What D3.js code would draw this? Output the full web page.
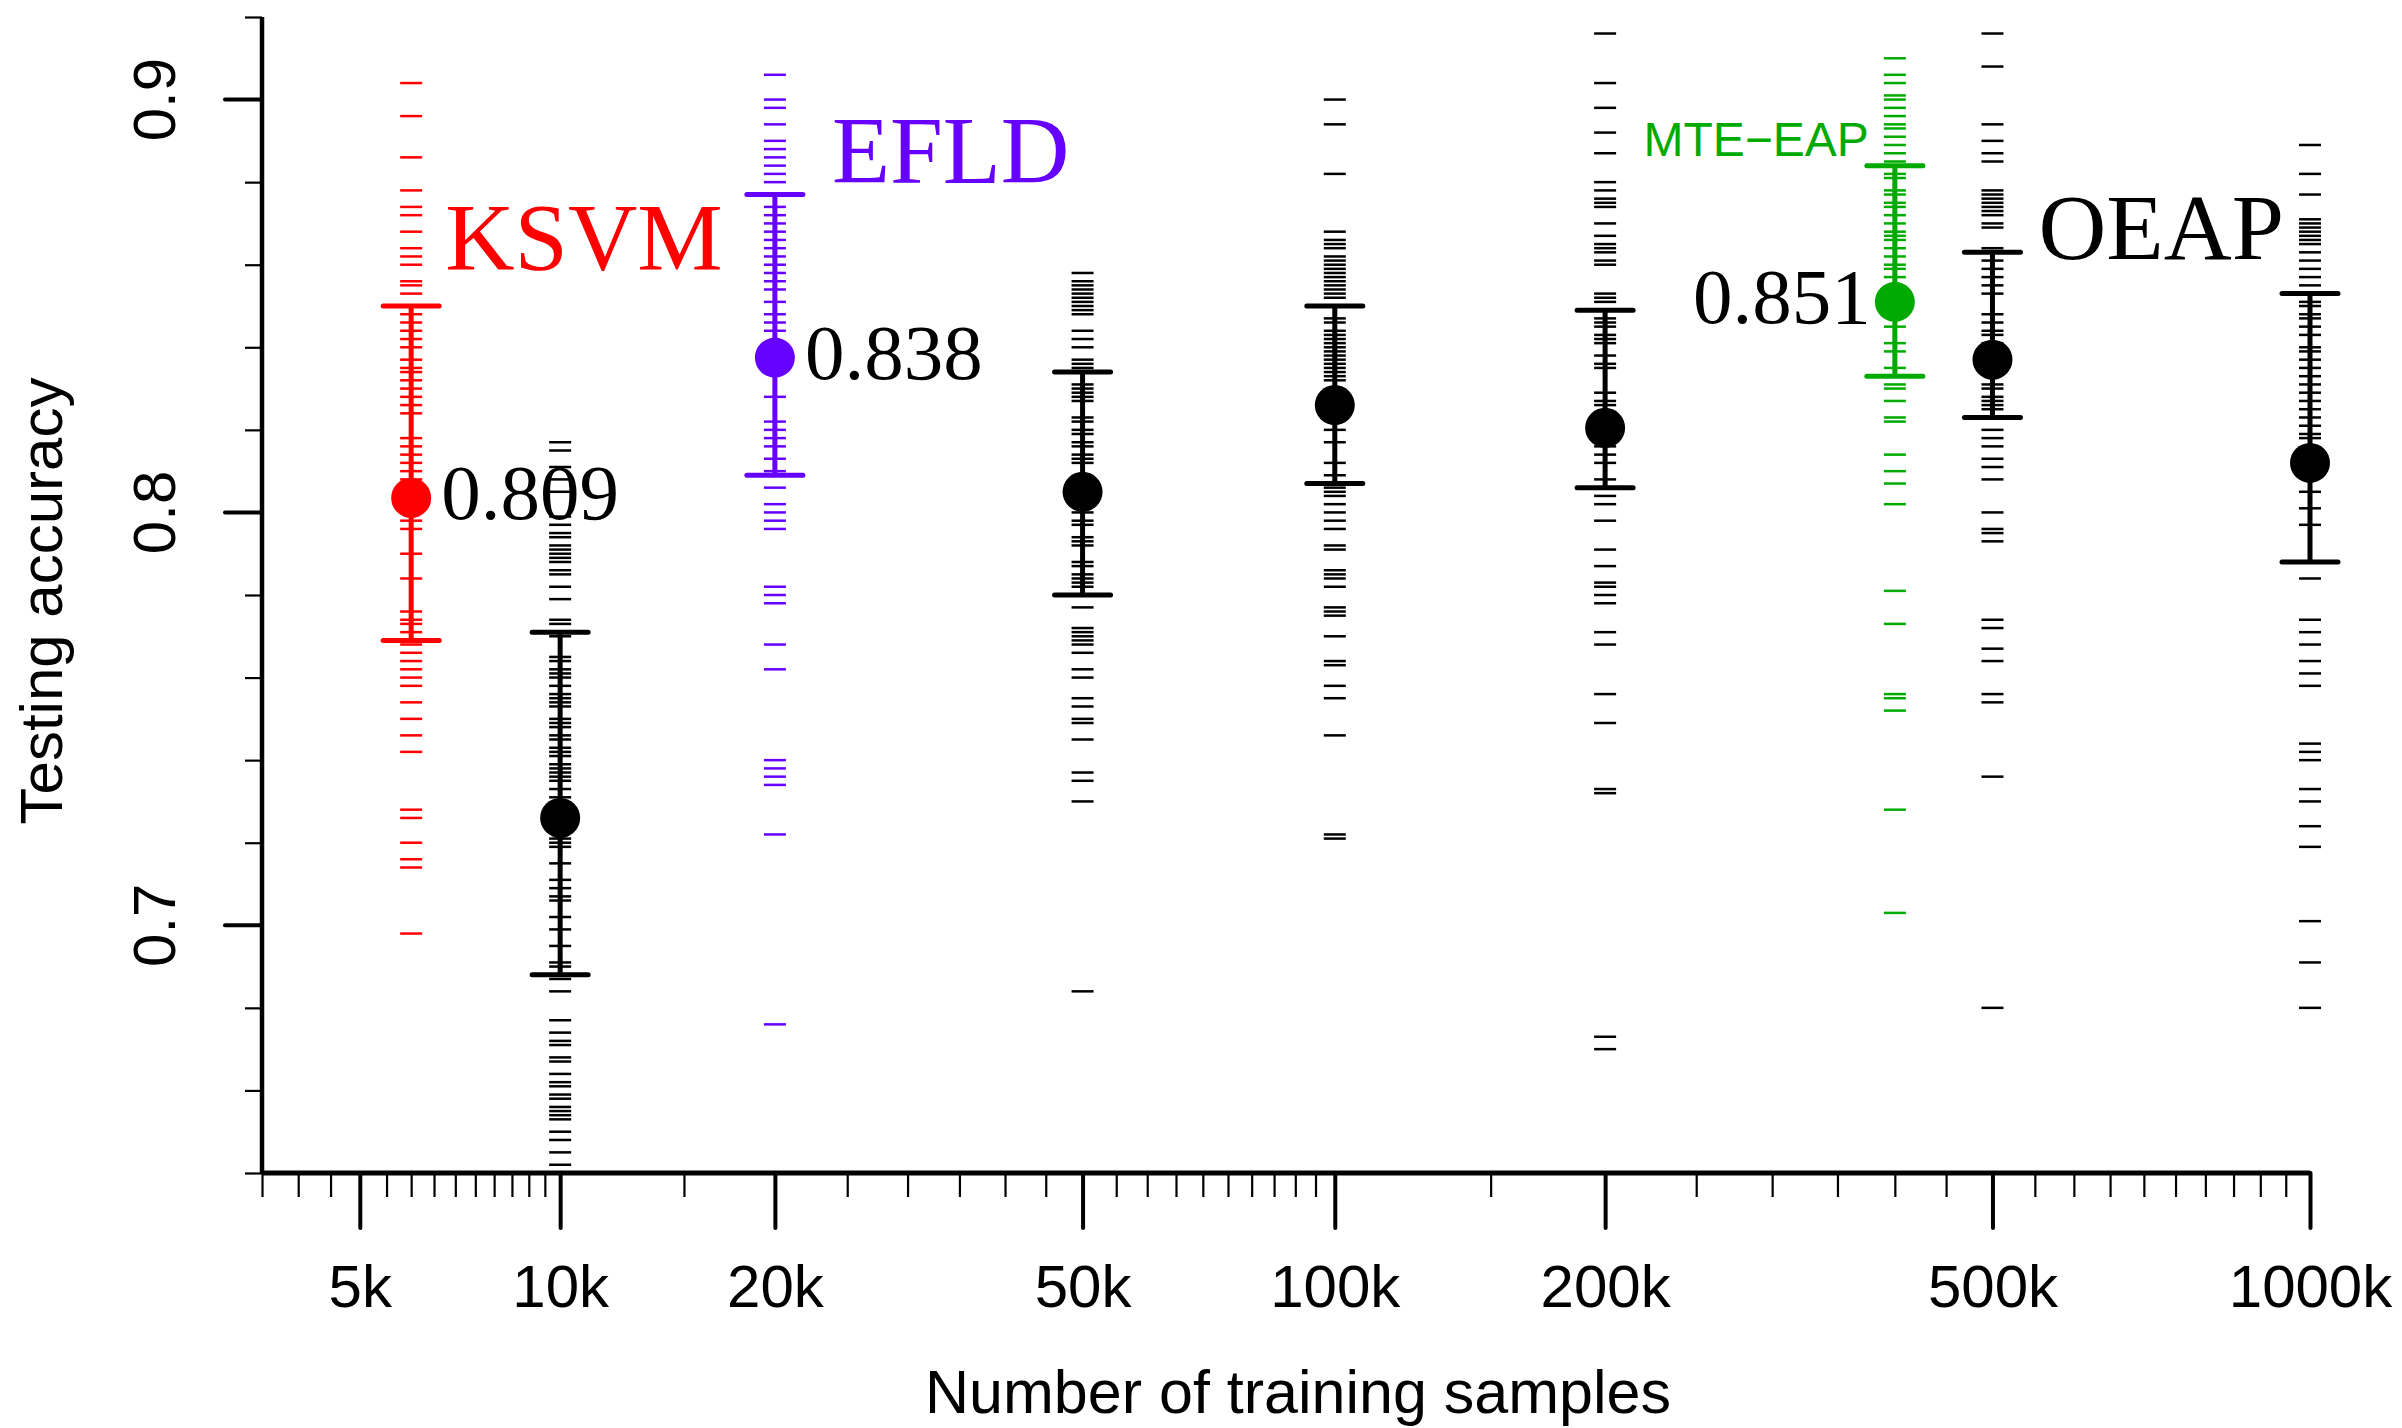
<!doctype html>
<html>
    <head>
        <title>Testing accuracy vs training samples</title>
        <style>
	html, body {
		margin: 0;
		padding: 0;
		background: #ffffff;
	}
	svg {
		display: block;
	}
        </style>
	<script src="https://cdnjs.cloudflare.com/ajax/libs/d3/7.8.5/d3.min.js"></script>
    </head>
    <body>
	<script>
	// ---- data ----
	var sizes = [6000, 10000, 20000, 50000, 100000, 200000, 400000, 500000, 1000000];
	var methods = ["KSVM", "OEAP", "EFLD", "OEAP", "OEAP", "OEAP", "MTE\u2212EAP", "OEAP", "OEAP"];
	var means = [0.8035, 0.726, 0.8375, 0.805, 0.826, 0.8205, 0.851, 0.837, 0.812];
	var upper = [0.850, 0.771, 0.877, 0.834, 0.850, 0.849, 0.884, 0.863, 0.853];
	var lower = [0.769, 0.688, 0.809, 0.780, 0.807, 0.806, 0.833, 0.823, 0.788];
	var valueLabels = ["0.809", null, "0.838", null, null, null, "0.851", null, null];

	// individual runs (the little dashes)
	var runs = [
		[0.904,0.896,0.886,0.878,0.874,0.872,0.868,0.864,0.862,0.860,0.856,0.855,0.853,0.848,0.846,0.844,0.842,0.840,0.837,0.835,0.834,0.832,0.830,0.828,0.826,0.824,0.818,0.816,0.814,0.812,0.810,0.808,0.800,0.798,0.796,0.790,0.784,0.776,0.774,0.773,0.771,0.768,0.766,0.764,0.762,0.760,0.758,0.754,0.750,0.746,0.742,0.728,0.726,0.720,0.716,0.714,0.698],
		[0.817,0.815,0.811,0.808,0.805,0.799,0.797,0.795,0.794,0.792,0.791,0.790,0.789,0.788,0.786,0.785,0.782,0.779,0.774,0.773,0.770,0.765,0.764,0.762,0.761,0.760,0.758,0.756,0.755,0.754,0.753,0.750,0.749,0.748,0.746,0.745,0.743,0.742,0.741,0.739,0.738,0.737,0.736,0.735,0.733,0.731,0.723,0.721,0.720,0.719,0.715,0.711,0.709,0.707,0.706,0.702,0.699,0.695,0.691,0.690,0.687,0.684,0.677,0.674,0.672,0.671,0.668,0.667,0.664,0.662,0.661,0.659,0.658,0.656,0.655,0.654,0.653,0.650,0.648,0.645,0.642],
		[0.906,0.900,0.898,0.894,0.890,0.888,0.886,0.884,0.882,0.880,0.874,0.872,0.870,0.868,0.866,0.864,0.862,0.860,0.858,0.856,0.854,0.851,0.848,0.846,0.844,0.828,0.822,0.820,0.818,0.816,0.813,0.810,0.806,0.802,0.800,0.798,0.796,0.782,0.780,0.778,0.768,0.762,0.740,0.738,0.736,0.734,0.722,0.676],
		[0.858,0.856,0.855,0.854,0.853,0.852,0.851,0.850,0.849,0.848,0.844,0.842,0.840,0.837,0.836,0.835,0.831,0.830,0.829,0.828,0.827,0.823,0.822,0.820,0.819,0.817,0.816,0.814,0.813,0.812,0.800,0.798,0.797,0.794,0.793,0.792,0.788,0.787,0.785,0.784,0.783,0.782,0.777,0.772,0.771,0.770,0.769,0.768,0.766,0.762,0.760,0.755,0.753,0.750,0.749,0.745,0.737,0.735,0.730,0.684],
		[0.900,0.894,0.882,0.868,0.866,0.865,0.864,0.862,0.861,0.860,0.859,0.858,0.857,0.856,0.855,0.854,0.853,0.852,0.847,0.846,0.844,0.843,0.842,0.841,0.840,0.839,0.838,0.837,0.836,0.835,0.834,0.833,0.832,0.820,0.817,0.812,0.809,0.806,0.805,0.804,0.802,0.800,0.798,0.796,0.792,0.791,0.786,0.785,0.784,0.782,0.777,0.776,0.775,0.770,0.764,0.763,0.758,0.755,0.746,0.722,0.721],
		[0.916,0.904,0.898,0.892,0.887,0.880,0.878,0.876,0.875,0.874,0.870,0.867,0.865,0.864,0.863,0.861,0.860,0.853,0.852,0.851,0.847,0.846,0.845,0.843,0.842,0.841,0.838,0.836,0.835,0.829,0.827,0.826,0.816,0.814,0.812,0.808,0.804,0.802,0.798,0.791,0.787,0.783,0.782,0.780,0.778,0.771,0.768,0.756,0.749,0.733,0.732,0.673,0.670],
		[0.910,0.906,0.904,0.901,0.900,0.898,0.896,0.894,0.893,0.891,0.889,0.887,0.885,0.882,0.881,0.878,0.877,0.875,0.874,0.872,0.870,0.868,0.867,0.866,0.864,0.862,0.860,0.859,0.857,0.845,0.841,0.839,0.835,0.831,0.830,0.827,0.823,0.822,0.814,0.810,0.807,0.802,0.781,0.773,0.756,0.755,0.752,0.728,0.703],
		[0.916,0.908,0.894,0.890,0.887,0.885,0.878,0.877,0.876,0.875,0.874,0.873,0.872,0.870,0.869,0.864,0.863,0.861,0.859,0.857,0.855,0.853,0.848,0.846,0.844,0.843,0.841,0.831,0.830,0.828,0.827,0.826,0.825,0.820,0.818,0.816,0.813,0.811,0.808,0.800,0.796,0.795,0.793,0.774,0.772,0.767,0.764,0.756,0.754,0.736,0.680],
		[0.889,0.882,0.877,0.871,0.870,0.869,0.868,0.867,0.866,0.865,0.863,0.861,0.859,0.857,0.855,0.851,0.850,0.848,0.847,0.845,0.843,0.840,0.839,0.837,0.835,0.833,0.831,0.829,0.827,0.825,0.823,0.821,0.819,0.818,0.805,0.801,0.797,0.784,0.774,0.771,0.768,0.764,0.761,0.758,0.744,0.742,0.740,0.733,0.730,0.724,0.719,0.701,0.691,0.680]
	];

	var majorX = [5000, 10000, 20000, 50000, 100000, 200000, 500000, 1000000];
	var majorXLabels = ["5k", "10k", "20k", "50k", "100k", "200k", "500k", "1000k"];
	var majorY = [0.7, 0.8, 0.9];

	var methodColor = {
		"KSVM": "#ff0000",
		"EFLD": "#6600ff",
		"MTE\u2212EAP": "#00aa00",
		"OEAP": "#000000"
	};

	// ---- layout ----
	var width = 2402, height = 1428;
	var svg = d3.select("body").append("svg")
		.attr("width", width)
		.attr("height", height);

	// the x axis is a power scale with a small exponent (not plain log)
	var x = d3.scalePow().exponent(0.1)
		.domain([3500, 1000000])
		.range([262, 2310]);
	var y = d3.scaleLinear()
		.domain([0.64, 0.92])
		.range([1173, 17]);

	// minor tick positions
	var minorX = d3.range(3500, 10000, 500)
		.concat(d3.range(10000, 100000, 5000))
		.concat(d3.range(100000, 1000001, 50000))
		.filter(function (v) { return majorX.indexOf(v) < 0; });
	var minorY = d3.range(0, 15).map(function (i) { return +(0.64 + i * 0.02).toFixed(2); })
		.filter(function (v) { return majorY.indexOf(v) < 0; });

	var sansFont = "Liberation Sans, Arial, Helvetica, sans-serif";
	var serifFont = "Liberation Serif, Times New Roman, serif";

	// ---- axes ----
	var xMinor = svg.append("g")
		.attr("transform", "translate(0," + y(0.64) + ")")
		.call(d3.axisBottom(x).tickValues(minorX).tickSize(24).tickFormat(""));
	xMinor.select(".domain").remove();
	xMinor.selectAll("line").attr("stroke-width", 2.2);

	var xMajor = svg.append("g")
		.attr("transform", "translate(0," + y(0.64) + ")")
		.call(d3.axisBottom(x).tickValues(majorX).tickSize(55)
			.tickFormat(function (d, i) { return majorXLabels[i]; }));
	xMajor.select(".domain").remove();
	xMajor.selectAll("line").attr("stroke-width", 4).attr("stroke-linecap", "round");
	xMajor.selectAll("text")
		.attr("y", 134).attr("dy", 0)
		.attr("font-family", sansFont)
		.attr("font-size", 60)
		.attr("fill", "#000");

	var yMinor = svg.append("g")
		.attr("transform", "translate(" + x(3500) + ",0)")
		.call(d3.axisLeft(y).tickValues(minorY).tickSize(17).tickFormat(""));
	yMinor.select(".domain").remove();
	yMinor.selectAll("line").attr("stroke-width", 2.2);

	var yMajor = svg.append("g")
		.attr("transform", "translate(" + x(3500) + ",0)")
		.call(d3.axisLeft(y).tickValues(majorY).tickSize(37).tickFormat(d3.format(".1f")));
	yMajor.select(".domain").remove();
	yMajor.selectAll("line").attr("stroke-width", 4).attr("stroke-linecap", "round");
	yMajor.selectAll("text")
		.attr("x", 0).attr("dy", 0)
		.attr("transform", function (d) { return "translate(-87," + y(d) + ") rotate(-90)"; })
		.attr("y", 0)
		.attr("text-anchor", "middle")
		.attr("font-family", sansFont)
		.attr("font-size", 60)
		.attr("fill", "#000");
	// d3 puts ticks in a translated group; undo the y offset for the rotated labels
	yMajor.selectAll(".tick").attr("transform", null);
	yMajor.selectAll(".tick line")
		.attr("y1", function (d) { return y(d); })
		.attr("y2", function (d) { return y(d); });

	// axis lines
	svg.append("line")
		.attr("x1", x(3500)).attr("x2", x(1000000))
		.attr("y1", y(0.64)).attr("y2", y(0.64))
		.attr("stroke", "#000").attr("stroke-width", 5);
	svg.append("line")
		.attr("x1", x(3500)).attr("x2", x(3500))
		.attr("y1", y(0.92)).attr("y2", y(0.64))
		.attr("stroke", "#000").attr("stroke-width", 4.5);

	// axis titles
	svg.append("text")
		.attr("x", 1298).attr("y", 1413)
		.attr("text-anchor", "middle")
		.attr("font-family", sansFont)
		.attr("font-size", 61)
		.text("Number of training samples");
	svg.append("text")
		.attr("transform", "translate(62," + 601 + ") rotate(-90)")
		.attr("text-anchor", "middle")
		.attr("font-family", sansFont)
		.attr("font-size", 60)
		.text("Testing accuracy");

	// ---- data marks ----
	var cols = sizes.map(function (s, i) {
		return { size: s, method: methods[i], mean: means[i], hi: upper[i], lo: lower[i],
			runs: runs[i], label: valueLabels[i], color: methodColor[methods[i]] };
	});

	var col = svg.selectAll(".col").data(cols).enter().append("g").attr("class", "col");

	// dashes for every run
	col.each(function (d) {
		d3.select(this).selectAll(".run").data(d.runs).enter().append("line")
			.attr("class", "run")
			.attr("x1", x(d.size) - 11).attr("x2", x(d.size) + 11)
			.attr("y1", function (v) { return y(v); })
			.attr("y2", function (v) { return y(v); })
			.attr("stroke", d.color)
			.attr("stroke-width", 2.5);
	});

	// error bars
	col.append("line")
		.attr("x1", function (d) { return x(d.size); })
		.attr("x2", function (d) { return x(d.size); })
		.attr("y1", function (d) { return y(d.hi); })
		.attr("y2", function (d) { return y(d.lo); })
		.attr("stroke", function (d) { return d.color; })
		.attr("stroke-width", 5);
	["hi", "lo"].forEach(function (k) {
		col.append("line")
			.attr("x1", function (d) { return x(d.size) - 28; })
			.attr("x2", function (d) { return x(d.size) + 28; })
			.attr("y1", function (d) { return y(d[k]); })
			.attr("y2", function (d) { return y(d[k]); })
			.attr("stroke", function (d) { return d.color; })
			.attr("stroke-width", 5)
			.attr("stroke-linecap", "round");
	});

	// mean dots
	col.append("circle")
		.attr("cx", function (d) { return x(d.size); })
		.attr("cy", function (d) { return y(d.mean); })
		.attr("r", 20)
		.attr("fill", function (d) { return d.color; });

	// value labels next to the dots
	col.filter(function (d) { return d.label; }).append("text")
		.attr("x", function (d) { return d.method == "MTE\u2212EAP" ? x(d.size) - 24 : x(d.size) + 30; })
		.attr("y", function (d) { return y(d.mean) + 21; })
		.attr("text-anchor", function (d) { return d.method == "MTE\u2212EAP" ? "end" : "start"; })
		.attr("font-family", serifFont)
		.attr("font-size", 79)
		.attr("fill", "#000")
		.text(function (d) { return d.label; });

	// method names
	var names = [
		{ text: "KSVM", size: 6000, dx: 34, at: 0.8586, anchor: "start", font: serifFont, fs: 96 },
		{ text: "EFLD", size: 20000, dx: 57, at: 0.8797, anchor: "start", font: serifFont, fs: 95 },
		{ text: "MTE\u2212EAP", size: 400000, dx: -26, at: 0.8864, anchor: "end", font: sansFont, fs: 48 },
		{ text: "OEAP", size: 500000, dx: 46, at: 0.8615, anchor: "start", font: serifFont, fs: 94 }
	];
	svg.selectAll(".name").data(names).enter().append("text")
		.attr("class", "name")
		.attr("x", function (d) { return x(d.size) + d.dx; })
		.attr("y", function (d) { return y(d.at); })
		.attr("text-anchor", function (d) { return d.anchor; })
		.attr("font-family", function (d) { return d.font; })
		.attr("font-size", function (d) { return d.fs; })
		.attr("fill", function (d) { return methodColor[d.text]; })
		.text(function (d) { return d.text; });
	</script>
    </body>
</html>
